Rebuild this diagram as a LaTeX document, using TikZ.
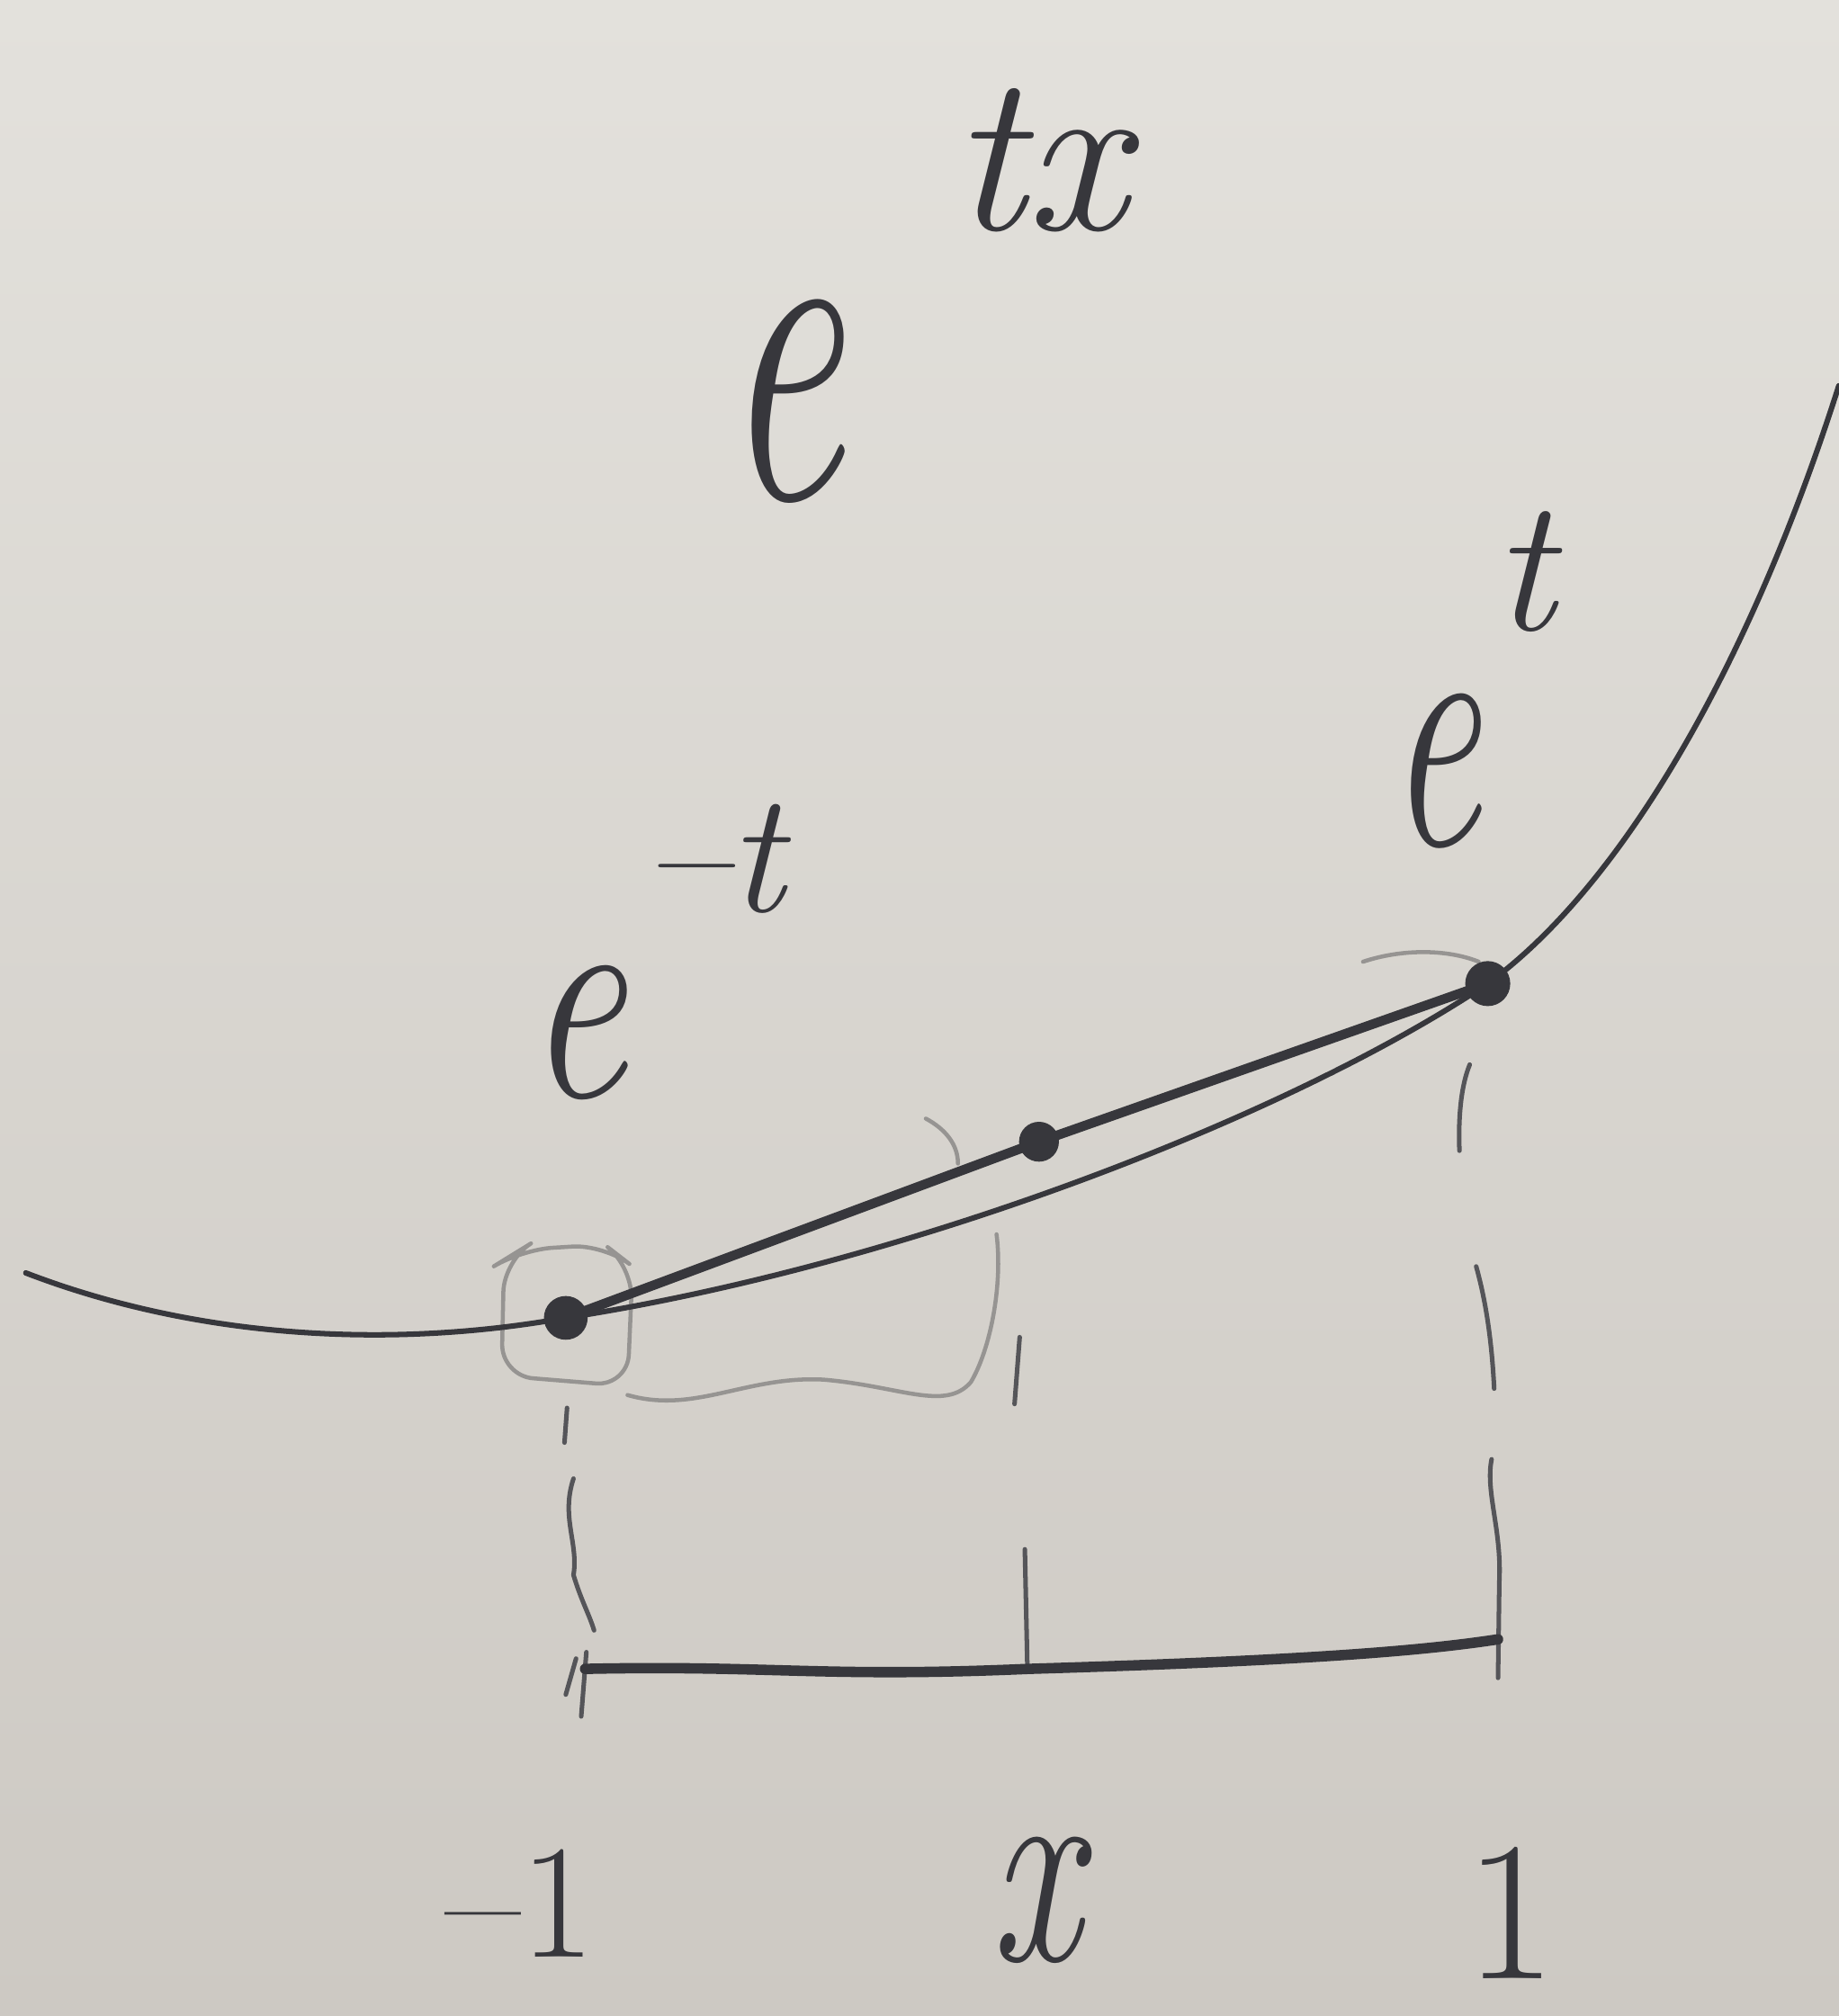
\documentclass[tikz,border=0pt]{standalone}
\usepackage{fontspec}
\definecolor{papertop}{RGB}{227,225,220}
\definecolor{paperbot}{RGB}{205,201,195}
\definecolor{ink}{RGB}{55,55,60}
\definecolor{faint}{RGB}{150,148,146}
\begin{document}
\begin{tikzpicture}[x=0.01cm,y=-0.01cm,line cap=round,line join=round,
  curve/.style={draw=ink,line width=1.2pt},
  chord/.style={draw=ink,line width=2.1pt},
  guide/.style={draw=ink!85,line width=1pt},
  baseline/.style={draw=ink,line width=2.3pt},
  sketch/.style={draw=faint,line width=0.9pt},
  dot/.style={circle,fill=ink,inner sep=0pt,minimum size=0.34cm},
  lab/.style={text=ink,inner sep=0pt}]
\useasboundingbox (0,0) rectangle (1430,1568);
\shade[top color=papertop,bottom color=paperbot] (0,0) rectangle (1430,1568);

% faint sketch marks
\draw[sketch,rounded corners=7pt] (392,980) -- (390,1070) -- (488,1078) -- (492,985) -- (470,968) -- (405,972) -- cycle;
\draw[sketch] (488,1085) .. controls (540,1100) and (580,1070) .. (640,1073)
  .. controls (700,1078) and (735,1098) .. (755,1075)
  .. controls (770,1050) and (780,1000) .. (775,960);
\draw[sketch] (720,870) .. controls (735,878) and (745,890) .. (745,905);
\draw[sketch] (1060,748) .. controls (1090,738) and (1125,738) .. (1150,748);

% points
\node[dot] (L) at (440,1025) {};
\node[dot,minimum size=0.31cm] (M) at (808,888) {};
\node[dot,minimum size=0.35cm] (R) at (1157,765) {};
\coordinate (S) at (20,990);
\coordinate (E) at (1430,300);
\coordinate (B1) at (455,1298);
\coordinate (B2) at (1165,1275);

% curve e^{tx}
\draw[curve] (S) .. controls (150,1040) and (300,1050) .. (L.center)
  .. controls (700,985) and (1000,870) .. (R.center)
  .. controls (1260,690) and (1360,520) .. (E);
% chord
\draw[chord] (L.center) -- (M.center) -- (R.center);

% vertical guide strokes
\draw[guide] (441,1095) -- (439,1122);
\draw[guide] (446,1150) .. controls (436,1180) and (450,1200) .. (446,1225) .. controls (452,1245) and (458,1255) .. (462,1268);
\draw[guide] (448,1290) -- (440,1318);
\draw[guide] (456,1285) -- (452,1335);
\draw[guide] (793,1040) -- (789,1092);
\draw[guide] (797,1205) -- (799,1298);
\draw[guide] (1143,828) .. controls (1136,845) and (1134,870) .. (1135,895);
\draw[guide] (1148,985) .. controls (1155,1010) and (1160,1040) .. (1162,1080);
\draw[guide] (1160,1135) .. controls (1155,1160) and (1168,1190) .. (1166,1230) -- (1165,1305);

% baseline
\draw[baseline] (B1) .. controls (600,1295) and (640,1305) .. (800,1298)
  .. controls (1000,1292) and (1100,1285) .. (B2);

% labels
\node[lab,xscale=0.6] (ltx) at (608,312) {\fontsize{100}{100}\selectfont\itshape e};
\node[lab] (ltxe) at (808,125) {\fontsize{50}{50}\selectfont\itshape tx};
\node[lab,xscale=0.6] (lt) at (1115,600) {\fontsize{76}{76}\selectfont\itshape e};
\node[lab] (lte) at (1185,445) {\fontsize{42}{42}\selectfont\itshape t};
\node[lab,xscale=0.75] (lmt) at (448,803) {\fontsize{66}{66}\selectfont\itshape e};
\node[lab] (lmte) at (555,668) {\fontsize{38}{38}\selectfont\itshape –t};
\node[lab] (xm1) at (405,1480) {\fontsize{36}{36}\selectfont –1};
\node[lab,xscale=0.72] (xx) at (805,1478) {\fontsize{62}{62}\selectfont\itshape x};
\node[lab] (x1) at (1175,1488) {\fontsize{44}{44}\selectfont 1};
\end{tikzpicture}
\end{document}
